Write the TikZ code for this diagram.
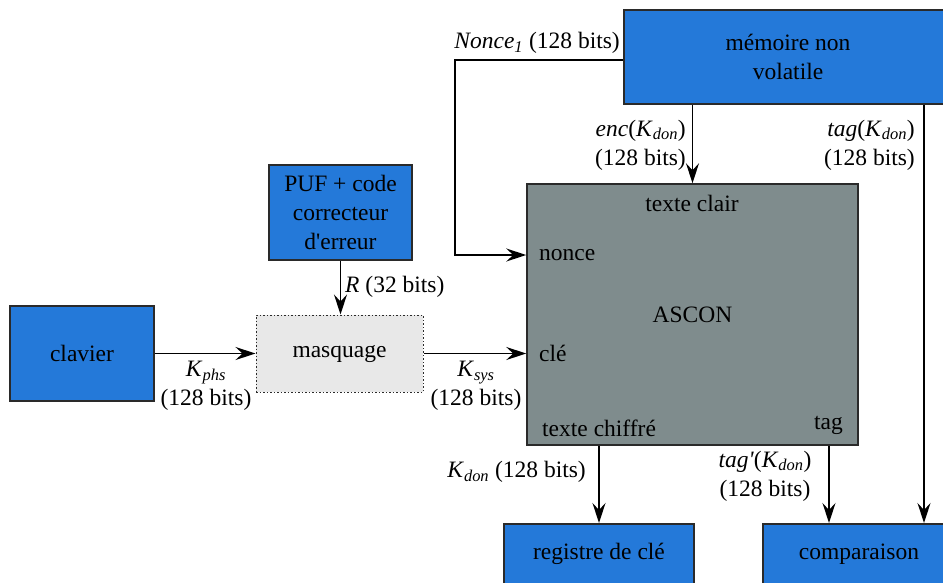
\documentclass[tikz,border=0pt]{standalone}
\usepackage{fontspec}
\setmainfont{Liberation Serif}
\newfontfamily\nq{Liberation Serif}
\usetikzlibrary{arrows.meta,calc}
\definecolor{boxblue}{HTML}{2479D9}
\definecolor{ascgray}{HTML}{7F8C8D}
\definecolor{maskgray}{HTML}{E8E8E8}
\definecolor{edge}{HTML}{2A2A2A}
\newcommand{\sub}[2]{\textit{#1}\textsubscript{\textit{#2}}}
\begin{document}
\begin{tikzpicture}[x=1pt,y=-1pt,
  every node/.style={font=\fontsize{23.5}{29}\selectfont, inner sep=0pt},
  bluebox/.style={draw=edge, line width=1.5pt, fill=boxblue, align=center},
  arr/.style={line width=1.5pt, -{Stealth[length=20pt,width=13pt,inset=7pt]}},
  plain/.style={line width=1.5pt}]
\fill[white] (0,0) rectangle (943,582);
\useasboundingbox (0,0) rectangle (943,582);
% boxes
\node[bluebox, minimum width=328, minimum height=94] (mem) at (788,57) {mémoire non\\volatile};
\node[bluebox, minimum width=143, minimum height=95] (puf) at (340.5,212.5) {PUF + code\\correcteur\\d{\nq'}erreur};
\node[bluebox, minimum width=144, minimum height=95] (clav) at (82,353.5) {clavier};
\node[draw=edge, line width=1pt, dash pattern=on 1.5pt off 2pt, fill=maskgray, minimum width=167, minimum height=77] (mask) at (339.5,353.5) {masquage};
\node[draw=edge, line width=1.5pt, fill=ascgray, minimum width=331, minimum height=261] (asc) at (692.5,314.5) {ASCON};
\node[bluebox, minimum width=190, anchor=north, text height=36pt, text depth=40pt] (reg) at (599,523) {registre de clé};
\node[bluebox, minimum width=192, anchor=north, text height=36pt, text depth=40pt] (cmp) at (859,523) {comparaison};
% inner labels of ASCON
\node[anchor=center] (tclair) at (692,203) {texte clair};
\node[anchor=west] (inonce) at (539,255) {nonce};
\node[anchor=west] (icle) at (539,353) {clé};
\node[anchor=west] (ichif) at (542,428) {texte chiffré};
\node[anchor=east] (itag) at (843,425) {tag};
% coordinates
\coordinate (n1) at (455,60);
\coordinate (tx) at (924,0);
\coordinate (tpx) at (829,0);
% connectors
\draw[arr] (mem.west |- n1) -- (n1) |- (asc.west |- inonce);
\draw[arr] (mem.south -| asc.north) -- (asc.north);
\draw[arr] (mem.south -| tx) -- (cmp.north -| tx);
\draw[arr] (puf.south) -- (puf.south |- mask.north);
\draw[arr] (clav.east) -- (mask.west);
\draw[arr] (mask.east) -- (asc.west |- mask.east);
\draw[arr] (asc.south -| reg.north) -- (reg.north);
\draw[arr] (asc.south -| tpx) -- (cmp.north -| tpx);
% connector labels
\node[anchor=east] (lnc) at (620,43) {\sub{Nonce}{1} (128 bits)};
\node[anchor=east, align=right] (lenc) at (686,145) {\textit{enc}(\sub{K}{don})\\(128 bits)};
\node[anchor=east, align=right] (ltag) at (915,145) {\textit{tag}(\sub{K}{don})\\(128 bits)};
\node[anchor=west] (lR) at (345,287) {\textit{R} (32 bits)};
\node[align=center] (lkphs) at (206,386) {\sub{K}{phs}\\(128 bits)};
\node[align=center] (lksys) at (476,386) {\sub{K}{sys}\\(128 bits)};
\node[anchor=east] (lkdon) at (586,472) {\sub{K}{don} (128 bits)};
\node[align=center] (ltagp) at (765,476) {\textit{tag{\nq'}}(\sub{K}{don})\\(128 bits)};
\end{tikzpicture}
\end{document}
